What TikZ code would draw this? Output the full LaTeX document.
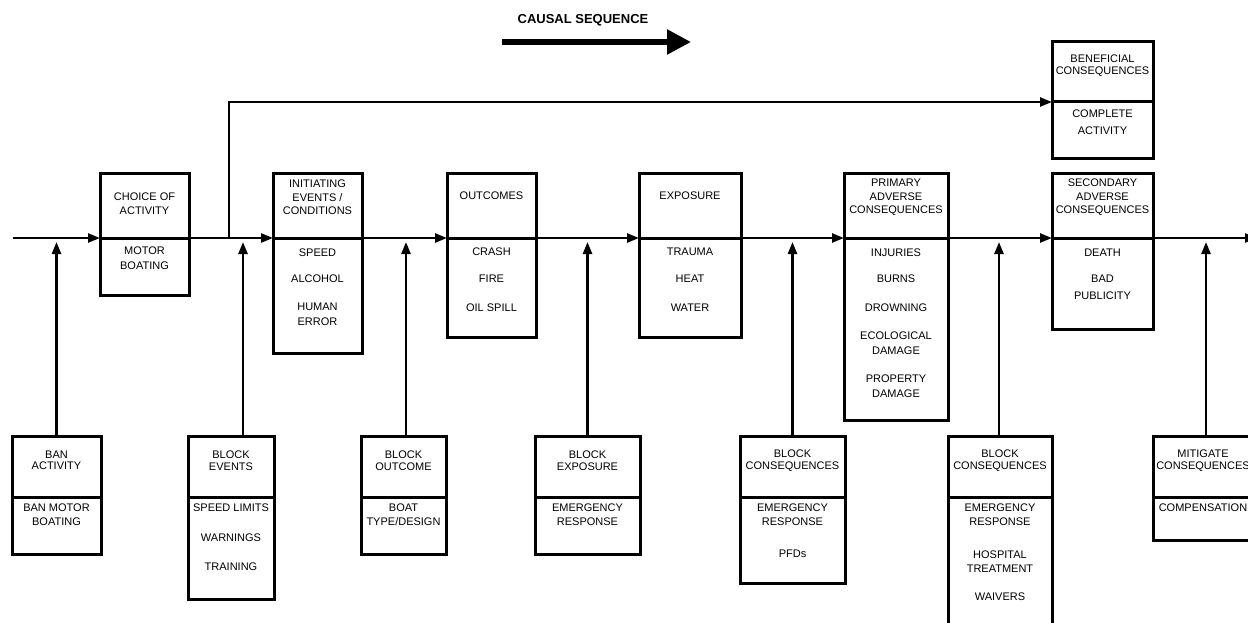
\documentclass[tikz,border=0pt]{standalone}
\usepackage{fontspec}
\setmainfont{Liberation Sans}
\usetikzlibrary{arrows.meta}

\tikzset{
  blk/.style={draw, line width=3pt, inner sep=0pt, outer sep=0pt, anchor=north west},
  rule/.style={line width=3pt},
  flow/.style={line width=2.5pt, -{Triangle[length=12pt,width=9pt]}},
  hdr/.style={font=\fontsize{11}{13.5}\selectfont, align=center, inner sep=0pt},
  bhdr/.style={font=\fontsize{11}{11.5}\selectfont, align=center, inner sep=0pt},
  itm/.style={font=\fontsize{11}{15.5}\selectfont, align=center, inner sep=0pt},
  bitm/.style={font=\fontsize{11}{14}\selectfont, align=center, inner sep=0pt},
}

\begin{document}
\begin{tikzpicture}[x=1pt,y=-1pt]
\useasboundingbox (0,0) rectangle (1248,623);

% reference levels: main causal line, bottom-box dividers, top branch
\coordinate (main) at (0,238);
\coordinate (tipline) at (0,242);
\coordinate (bdiv) at (0,497);
\coordinate (tdiv) at (0,102);

% ---------- causal sequence banner ----------
\node[font=\fontsize{13}{15}\selectfont\bfseries, inner sep=0pt] (cstitle) at (583,20) {CAUSAL SEQUENCE};
\coordinate (cs0) at (502,42);
\coordinate (cs1) at (691,42);
\draw[line width=5.5pt, -{Triangle[length=24pt,width=24pt]}] (cs0) -- (cs1);

% ---------- chain boxes ----------
\node[blk, minimum width=89pt,  minimum height=121pt] (choice) at (100,174) {};
\node[blk, minimum width=89pt,  minimum height=179pt] (init)   at (273,174) {};
\node[blk, minimum width=89pt,  minimum height=163pt] (outc)   at (447,174) {};
\node[blk, minimum width=102pt, minimum height=163pt] (expo)   at (639,174) {};
\node[blk, minimum width=104pt, minimum height=246pt] (prim)   at (844,174) {};
\node[blk, minimum width=101pt, minimum height=155pt] (sec)    at (1052,174) {};
\node[blk, minimum width=101pt, minimum height=117pt] (bene)   at (1052,42) {};

\foreach \b in {choice,init,outc,expo,prim,sec}
  \draw[rule] (\b.west |- main) -- (\b.east |- main);
\draw[rule] (bene.west |- tdiv) -- (bene.east |- tdiv);

% ---------- intervention boxes ----------
\node[blk, minimum width=89pt,  minimum height=118pt] (ban)   at (12,436) {};
\node[blk, minimum width=86pt,  minimum height=163pt] (bev)   at (188,436) {};
\node[blk, minimum width=85pt,  minimum height=118pt] (bout)  at (361,436) {};
\node[blk, minimum width=105pt, minimum height=118pt] (bexp)  at (535,436) {};
\node[blk, minimum width=105pt, minimum height=147pt] (bcon)  at (740,436) {};
\node[blk, minimum width=104pt, minimum height=204pt] (bcons) at (948,436) {};
\node[blk, minimum width=100pt, minimum height=104pt] (miti)  at (1153,436) {};

\foreach \b in {ban,bev,bout,bexp,bcon,bcons,miti}
  \draw[rule] (\b.west |- bdiv) -- (\b.east |- bdiv);
\draw[line width=1.5pt] ([xshift=1.2pt]ban.north west) -- ([xshift=1.2pt]ban.south west);

% ---------- main causal line ----------
\coordinate (start) at (13,238);
\coordinate (finish) at (1257,238);
\coordinate (split) at (229,238);
\draw[flow] (start) -- (choice.west |- main);
\draw[flow] (choice.east |- main) -- (init.west |- main);
\draw[flow] (init.east |- main) -- (outc.west |- main);
\draw[flow] (outc.east |- main) -- (expo.west |- main);
\draw[flow] (expo.east |- main) -- (prim.west |- main);
\draw[flow] (prim.east |- main) -- (sec.west |- main);
\draw[flow] (sec.east |- main) -- (finish);
\draw[flow] (split) |- (bene.west |- tdiv);

% ---------- interventions acting on the line ----------
\draw[flow] (ban.north) -- (ban.north |- tipline);
\draw[flow] ([xshift=12pt]bev.north) -- ([xshift=12pt]bev.north |- tipline);
\draw[flow] ([xshift=2.5pt]bout.north) -- ([xshift=2.5pt]bout.north |- tipline);
\draw[flow] (bexp.north) -- (bexp.north |- tipline);
\draw[flow] (bcon.north) -- (bcon.north |- tipline);
\draw[flow] ([xshift=-1pt]bcons.north) -- ([xshift=-1pt]bcons.north |- tipline);
\draw[flow] ([xshift=3pt]miti.north) -- ([xshift=3pt]miti.north |- tipline);

% ---------- chain box texts ----------
\node[hdr] (tchoice) at (144.5,203.5) {CHOICE OF\\ACTIVITY};
\node[itm] (ichoice) at (144.5,258) {MOTOR\\BOATING};

\node[hdr] (tinit) at (317.5,197.5) {INITIATING\\EVENTS /\\CONDITIONS};
\node[itm] (iinit1) at (317.5,253) {SPEED};
\node[itm] (iinit2) at (317.5,279) {ALCOHOL};
\node[itm] (iinit3) at (317.5,314.5) {HUMAN\\ERROR};

\node[hdr] (toutc) at (491.5,196) {OUTCOMES};
\node[itm] (ioutc1) at (491.5,252) {CRASH};
\node[itm] (ioutc2) at (491.5,279) {FIRE};
\node[itm] (ioutc3) at (491.5,308) {OIL SPILL};

\node[hdr] (texpo) at (690,196) {EXPOSURE};
\node[itm] (iexpo1) at (690,252) {TRAUMA};
\node[itm] (iexpo2) at (690,279) {HEAT};
\node[itm] (iexpo3) at (690,308) {WATER};

\node[hdr] (tprim) at (896,197.5) {PRIMARY\\ADVERSE\\CONSEQUENCES};
\node[itm] (iprim1) at (896,253) {INJURIES};
\node[itm] (iprim2) at (896,279) {BURNS};
\node[itm] (iprim3) at (896,308) {DROWNING};
\node[itm] (iprim4) at (896,343) {ECOLOGICAL\\DAMAGE};
\node[itm] (iprim5) at (896,386) {PROPERTY\\DAMAGE};

\node[hdr] (tsec) at (1102.5,197.5) {SECONDARY\\ADVERSE\\CONSEQUENCES};
\node[itm] (isec1) at (1102.5,253) {DEATH};
\node[itm, font=\fontsize{11}{17}\selectfont] (isec2) at (1102.5,287.5) {BAD\\PUBLICITY};

\node[bhdr] (tbene) at (1102.5,65.5) {BENEFICIAL\\CONSEQUENCES};
\node[itm, font=\fontsize{11}{17}\selectfont] (ibene) at (1102.5,122.5) {COMPLETE\\ACTIVITY};

% ---------- intervention box texts ----------
\node[bhdr] (tban) at (56.5,460.5) {BAN\\ACTIVITY};
\node[bitm] (iban) at (56.5,515) {BAN MOTOR\\BOATING};

\node[bhdr] (tbev) at (231,460.5) {BLOCK\\EVENTS};
\node[bitm] (ibev1) at (231,508) {SPEED LIMITS};
\node[bitm] (ibev2) at (231,538) {WARNINGS};
\node[bitm] (ibev3) at (231,567) {TRAINING};

\node[bhdr] (tbout) at (403.5,460.5) {BLOCK\\OUTCOME};
\node[bitm] (ibout) at (403.5,515) {BOAT\\TYPE/DESIGN};

\node[bhdr] (tbexp) at (587.5,460.5) {BLOCK\\EXPOSURE};
\node[bitm] (ibexp) at (587.5,515) {EMERGENCY\\RESPONSE};

\node[bhdr] (tbcon) at (792.5,460.5) {BLOCK\\CONSEQUENCES};
\node[bitm] (ibcon1) at (792.5,515) {EMERGENCY\\RESPONSE};
\node[bitm] (ibcon2) at (792.5,554) {PFDs};

\node[bhdr] (tbcons) at (1000,460.5) {BLOCK\\CONSEQUENCES};
\node[bitm] (ibcons1) at (1000,515) {EMERGENCY\\RESPONSE};
\node[bitm] (ibcons2) at (1000,562) {HOSPITAL\\TREATMENT};
\node[bitm] (ibcons3) at (1000,597) {WAIVERS};

\node[bhdr] (tmiti) at (1203,460.5) {MITIGATE\\CONSEQUENCES};
\node[bitm] (imiti) at (1203,508) {COMPENSATION};
\end{tikzpicture}
\end{document}
